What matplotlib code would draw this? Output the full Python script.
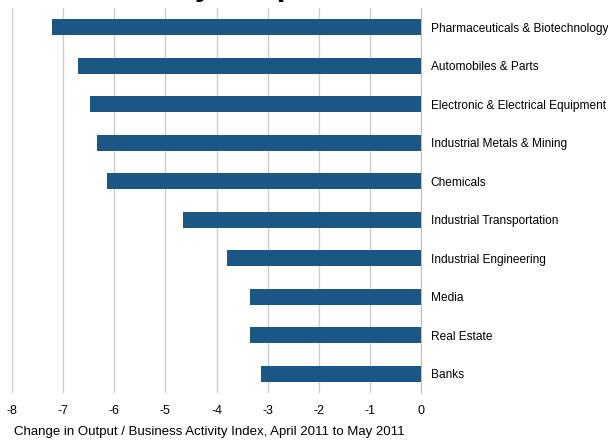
import matplotlib
matplotlib.use("Agg")
import matplotlib.pyplot as plt

plt.rcParams["font.family"] = ["Liberation Sans", "DejaVu Sans"]

sectors = [
    "Pharmaceuticals & Biotechnology",
    "Automobiles & Parts",
    "Electronic & Electrical Equipment",
    "Industrial Metals & Mining",
    "Chemicals",
    "Industrial Transportation",
    "Industrial Engineering",
    "Media",
    "Real Estate",
    "Banks",
]
change = [-7.22, -6.70, -6.47, -6.33, -6.14, -4.65, -3.79, -3.35, -3.35, -3.13]
x_ticks = [-8, -7, -6, -5, -4, -3, -2, -1, 0]

fig = plt.figure(figsize=(6.08, 4.43), dpi=100)
ax = fig.add_axes([12 / 608, 1 - 393 / 443, (421 - 12) / 608, (393 - 8) / 443])

pos = list(range(len(sectors)))
ax.barh(pos, change, height=0.42, color="#1a5785", zorder=3)

ax.set_xlim(-8, 0)
ax.set_ylim(len(sectors) - 0.5, -0.5)
ax.set_xticks(x_ticks)
ax.set_xticklabels([str(t) for t in x_ticks], fontsize=9)
ax.tick_params(axis="x", length=0, pad=9)

ax.set_yticks(pos)
ax.set_yticklabels(sectors, fontsize=8.6)
ax.yaxis.tick_right()
ax.tick_params(axis="y", length=0, pad=7)

ax.grid(axis="x", color="#cccccc", linewidth=1, zorder=0)
for s in ["top", "bottom", "left"]:
    ax.spines[s].set_visible(False)
ax.spines["right"].set_color("#c0c0c0")

ax.set_xlabel("Change in Output / Business Activity Index, April 2011 to May 2011",
              fontsize=9.5, loc="left")
ax.xaxis.set_label_coords(0.005, -0.085)

# title sits mostly above the canvas, only descenders show
fig.text(-89 / 608, 1 + 5 / 443, "Weakest Sectors by Output",
         fontsize=23, fontweight="bold", ha="left", va="baseline")

fig.savefig("out.png", dpi=100)
